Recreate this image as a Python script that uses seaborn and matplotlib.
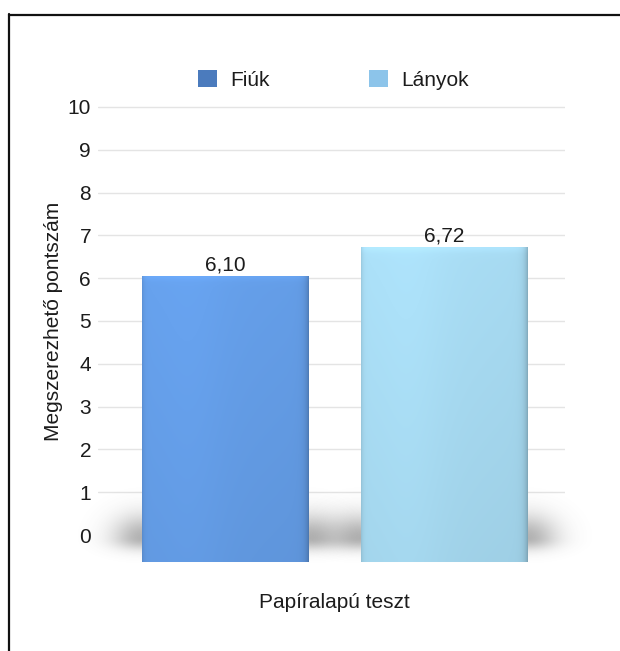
import numpy as np
import pandas as pd
import matplotlib
matplotlib.use("Agg")
import matplotlib.pyplot as plt
import seaborn as sns
from matplotlib.lines import Line2D
from matplotlib.patches import Patch
from matplotlib.colors import to_rgb

# --- data ---------------------------------------------------------------
groups = ["Fiúk", "Lányok"]
scores = [6.10, 6.72]
test_type = ["Papíralapú teszt", "Papíralapú teszt"]
y_ticks = [0, 1, 2, 3, 4, 5, 6, 7, 8, 9, 10]
y_label = "Megszerezhető pontszám"

bar_colors = ["#67a2ee", "#ace1f9"]
legend_colors = ["#4b7bbd", "#8cc4ea"]

df = pd.DataFrame({"teszt": test_type, "nem": groups, "pont": scores})

sns.set_theme(style="white")
plt.rcParams["font.family"] = ["Liberation Sans", "DejaVu Sans"]
FS = 15
TXT = "#1c1c1c"

W, H = 620, 651
fig = plt.figure(figsize=(W / 100, H / 100), dpi=100)


def fx(px):
    return px / W


def fy(py):
    return 1 - py / H


left, right, top, bottom = 98, 565, 95, 580
ax = fig.add_axes([fx(left), fy(bottom), (right - left) / W, (bottom - top) / H])

# grid axis (value scale of the back wall)
ax.set_ylim(-1.051, 10.28)
ax.set_yticks(y_ticks)
ax.set_yticklabels([str(t) for t in y_ticks], fontsize=FS, color=TXT)
for t in y_ticks[1:]:
    ax.axhline(t, color="#e4e4e4", lw=1.0, zorder=0)
ax.tick_params(axis="y", length=0, pad=5)
for s in ax.spines.values():
    s.set_visible(False)
ax.set_ylabel(y_label, fontsize=FS, color=TXT)
ax.yaxis.set_label_coords(-0.075, 0.534)

# bars live on a twin axis (front plane of the 3D-style columns)
ax2 = ax.twinx()
sns.barplot(data=df, x="teszt", y="pont", hue="nem", palette=bar_colors,
            width=0.8, gap=0.236, ax=ax2, legend=False, saturation=1,
            edgecolor="none")
ax2.set_yticks([])
ax2.set_ylabel("")
ax2.set_xlabel("")
for s in ax2.spines.values():
    s.set_visible(False)

# soft drop shadow behind the foot of each column
for p in ax2.patches:
    x0, y0 = p.get_x(), p.get_y()
    w, h = p.get_width(), p.get_height()
    ex0, ex1 = x0 - 0.14, x0 + w + 0.14
    ey0, ey1 = y0 - 0.5, y0 + 1.8
    xs = np.linspace(ex0, ex1, 300)
    ys = np.linspace(ey0, ey1, 120)
    X, Y = np.meshgrid(xs, ys)
    dx = np.maximum(0, np.maximum(x0 - X, X - (x0 + w)))
    yc = y0 + 0.5
    sig = np.where(Y > yc, 0.5, 0.25)
    a = np.exp(-(dx / 0.055) ** 2) * np.exp(-((Y - yc) / sig) ** 2) * 0.45
    img = np.zeros((len(ys), len(xs), 4))
    img[..., :3] = 0.33
    img[..., 3] = a
    ax2.imshow(img, extent=[ex0, ex1, ey0, ey1], origin="lower",
               aspect="auto", zorder=0.5, interpolation="bilinear",
               clip_on=False)

# cylindrical shading on the column faces
for p, col in zip(ax2.patches, bar_colors):
    p.set_zorder(2)
    x0, y0 = p.get_x(), p.get_y()
    w, h = p.get_width(), p.get_height()
    t = np.linspace(0, 1, 200)
    prof = (1 - 0.10 * np.exp(-t / 0.012) - 0.20 * np.exp(-(1 - t) / 0.02)
            - 0.03 * t + 0.02 * np.exp(-((t - 0.3) / 0.2) ** 2))
    v = np.linspace(0, 1, 60)
    vprof = 1 - 0.05 * (1 - v) + 0.04 * np.exp(-(1 - v) / 0.01)
    base = np.array(to_rgb(col))
    img = np.clip(base[None, None, :] * prof[None, :, None] * vprof[:, None, None], 0, 1)
    im = ax2.imshow(img, extent=[x0, x0 + w, y0, y0 + h], origin="lower",
                    aspect="auto", zorder=2.1, interpolation="bilinear")
    im.set_clip_path(p)

ax2.set_ylim(-0.384, 9.957)
ax2.set_xlim(-0.4336, 0.4217)

for cont in ax2.containers:
    ax2.bar_label(cont, labels=[f"{v:.2f}".replace(".", ",") for v in cont.datavalues],
                  padding=1, fontsize=FS, color=TXT)

ax.set_xticks([0])
ax.set_xticklabels([test_type[0]], fontsize=FS, color=TXT)
ax.tick_params(axis="x", length=0, pad=9)
ax.set_xlabel("")

# legend above the plot
handles = [Patch(facecolor=c, edgecolor="none") for c in legend_colors]
fig.legend(handles, groups, loc="center", bbox_to_anchor=(fx(333.5), fy(80)),
           ncol=2, frameon=False, fontsize=FS, handlelength=0.9, handleheight=0.9,
           handletextpad=0.62, columnspacing=4.8, labelcolor=TXT)

# page frame
fig.add_artist(Line2D([fx(8.5), fx(8.5)], [fy(14), 0], color="#111111", lw=1.6))
fig.add_artist(Line2D([fx(8.5), 1], [fy(14.5), fy(14.5)], color="#111111", lw=1.6))

fig.savefig("out.png", dpi=100, facecolor="white")
